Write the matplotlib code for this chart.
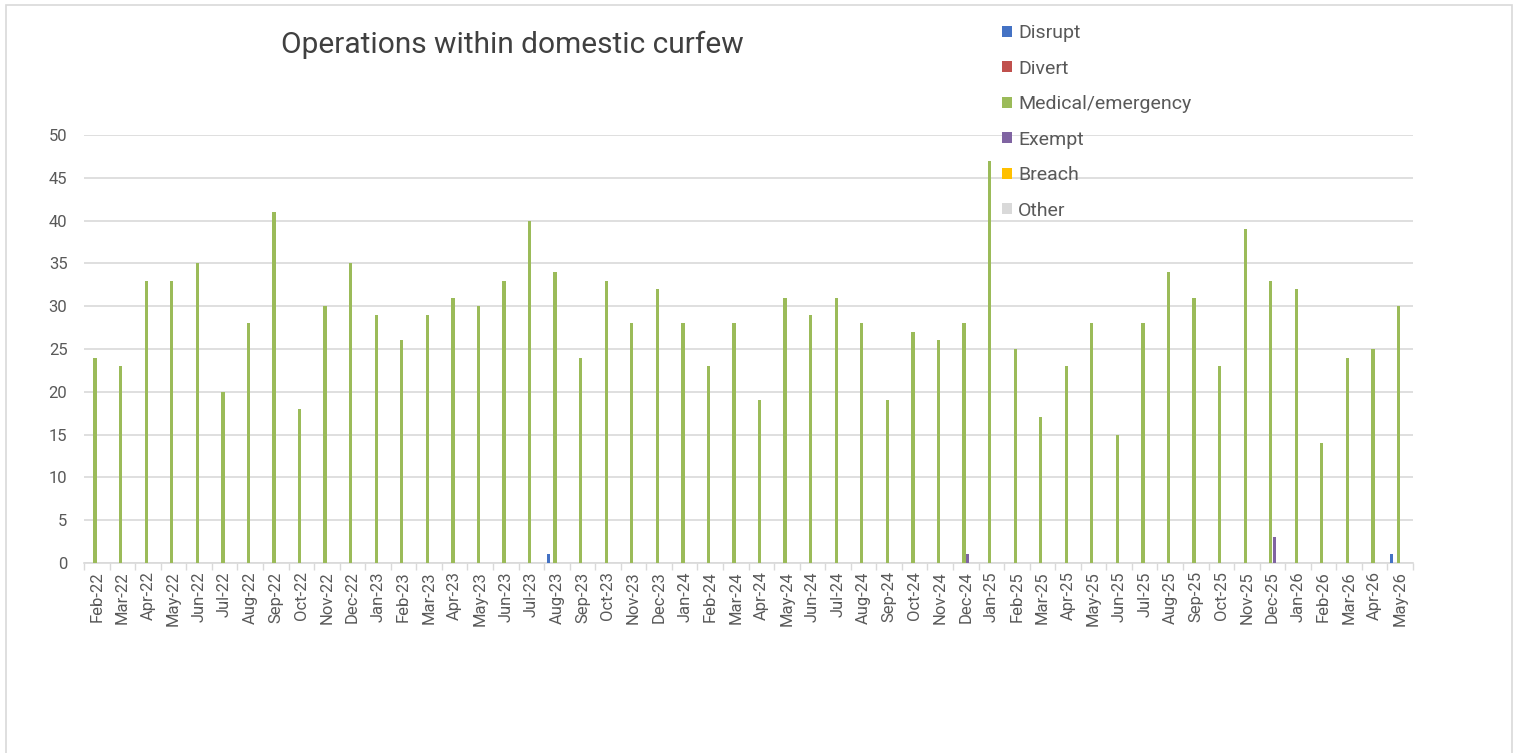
import numpy as np
import matplotlib.pyplot as plt
from matplotlib.patches import Rectangle

months = ['Feb-22', 'Mar-22', 'Apr-22', 'May-22', 'Jun-22', 'Jul-22', 'Aug-22', 'Sep-22', 'Oct-22',
          'Nov-22', 'Dec-22', 'Jan-23', 'Feb-23', 'Mar-23', 'Apr-23', 'May-23', 'Jun-23', 'Jul-23',
          'Aug-23', 'Sep-23', 'Oct-23', 'Nov-23', 'Dec-23', 'Jan-24', 'Feb-24', 'Mar-24', 'Apr-24',
          'May-24', 'Jun-24', 'Jul-24', 'Aug-24', 'Sep-24', 'Oct-24', 'Nov-24', 'Dec-24', 'Jan-25',
          'Feb-25', 'Mar-25', 'Apr-25', 'May-25', 'Jun-25', 'Jul-25', 'Aug-25', 'Sep-25', 'Oct-25',
          'Nov-25', 'Dec-25', 'Jan-26', 'Feb-26', 'Mar-26', 'Apr-26', 'May-26']

medical = [24, 23, 33, 33, 35, 20, 28, 41, 18, 30, 35, 29, 26, 29, 31, 30, 33, 40,
           34, 24, 33, 28, 32, 28, 23, 28, 19, 31, 29, 31, 28, 19, 27, 26, 28, 47,
           25, 17, 23, 28, 15, 28, 34, 31, 23, 39, 33, 32, 14, 24, 25, 30]

n = len(months)
disrupt = [0] * n
disrupt[months.index('Aug-23')] = 1
disrupt[months.index('May-26')] = 1
divert = [0] * n
exempt = [0] * n
exempt[months.index('Dec-24')] = 1
exempt[months.index('Dec-25')] = 3
breach = [0] * n
other = [0] * n

series = [('Disrupt', disrupt, '#4472c4'),
          ('Divert', divert, '#c0504d'),
          ('Medical/emergency', medical, '#9bbb59'),
          ('Exempt', exempt, '#8064a2'),
          ('Breach', breach, '#ffc000'),
          ('Other', other, '#d9d9d9')]

plt.rcParams['font.family'] = ['Roboto', 'DejaVu Sans']
txt = '#595959'

fig = plt.figure(figsize=(15.2, 7.53), dpi=100)
fig.patches.append(Rectangle((0.004, -0.02), 0.991, 1.013, transform=fig.transFigure,
                             fill=False, edgecolor='#d9d9d9', linewidth=1.2))
ax = fig.add_axes([0.0553, 0.2523, 0.8743, 0.5684])

x = np.arange(n)
w = 0.135
for i, (name, vals, col) in enumerate(series):
    ax.bar(x + (i - 2.5) * w, vals, width=w * 0.95, color=col, label=name, zorder=3)

ax.set_xlim(-0.5, n - 0.5)
ax.set_ylim(0, 50)
ax.set_yticks(range(0, 51, 5))
ax.yaxis.grid(True, color='#d9d9d9', linewidth=1.2, zorder=0)
ax.tick_params(axis='y', length=0, labelsize=12, colors=txt, pad=12)
ax.set_xticks(x)
ax.set_xticklabels(months, rotation=90, fontsize=12, color=txt)
ax.set_xticks(np.arange(-0.5, n, 1), minor=True)
ax.tick_params(axis='x', which='major', length=0, pad=6)
ax.tick_params(axis='x', which='minor', length=5, color='#d9d9d9', width=1)
for s in ['top', 'right', 'left']:
    ax.spines[s].set_visible(False)
ax.spines['bottom'].set_color('#d9d9d9')
ax.spines['bottom'].set_linewidth(1.2)

fig.text(0.337, 0.94, 'Operations within domestic curfew', fontsize=21.5, color='#404040',
         ha='center', va='center')

leg = fig.legend(loc='upper left', bbox_to_anchor=(0.648, 0.991), frameon=False,
                 fontsize=14, handlelength=0.5, handleheight=0.5, handletextpad=0.3,
                 labelspacing=0.9, labelcolor=txt)

fig.savefig('out.png', dpi=100)
